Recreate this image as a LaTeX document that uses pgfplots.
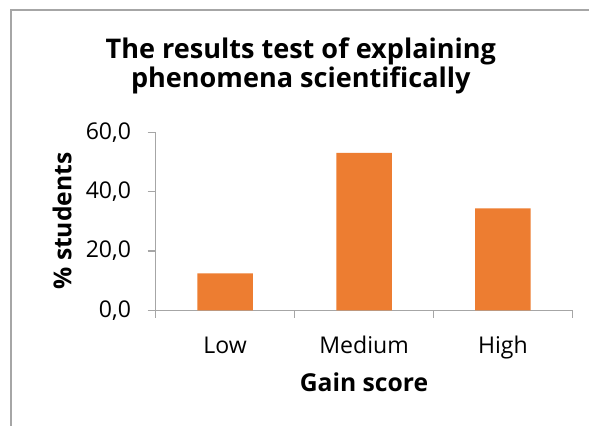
\documentclass[border=0pt]{standalone}
\usepackage{pgfplots}
\pgfplotsset{compat=1.18}
\usepackage{fontspec}
\setmainfont{Open Sans}
\definecolor{barorange}{HTML}{ED7D31}
\definecolor{axgray}{HTML}{A6A6A6}
\begin{document}
\begin{tikzpicture}
\path[use as bounding box] (0,0) rectangle (441.75pt,318.75pt);
\fill[white] (0,0) rectangle (441.75pt,318.75pt);
\draw[axgray, line width=1pt] (8.25pt,-2pt) -- (8.25pt,311.25pt) -- (445pt,311.25pt);
\begin{axis}[
  at={(116.8pt,86pt)}, anchor=south west,
  width=312.5pt, height=133.5pt, scale only axis,
  xmin=-0.5, xmax=2.5, ymin=0, ymax=60,
  axis x line*=bottom, axis y line*=left,
  axis line style={axgray, line width=1pt, -},
  xtick={0,1,2}, xticklabels={Low,Medium,High},
  minor xtick={-0.5,0.5,1.5,2.5},
  major x tick style={draw=none},
  minor tick length=5.5pt,
  major tick length=6pt,
  tick align=outside,
  tick style={axgray, line width=1pt},
  ytick={0,20,40,60},
  /pgf/number format/assume math mode=true,
  /pgf/number format/fixed,
  /pgf/number format/fixed zerofill,
  /pgf/number format/precision=1,
  /pgf/number format/use comma,
  ticklabel style={font=\fontsize{17.3}{20}\selectfont, text=black},
  yticklabel style={xshift=-9pt},
  xticklabel style={anchor=base, yshift=-26pt},
  ybar, bar width=0.4,
  clip=false,
]
\addplot[fill=barorange, draw=none] coordinates {(0,12.5) (1,53.1) (2,34.4)};
\end{axis}
\node[anchor=base, font=\fontsize{20.3}{24}\selectfont\bfseries] at (225.6pt,275pt) {The results test of explaining};
\node[anchor=base, font=\fontsize{20.3}{24}\selectfont\bfseries] at (225.6pt,253pt) {phenomena scientifically};
\node[anchor=base, font=\fontsize{18.5}{22}\selectfont\bfseries] at (273pt,25pt) {Gain score};
\node[rotate=90, anchor=center, font=\fontsize{18.5}{22}\selectfont\bfseries] at (46.5pt,153pt) {\% students};
\end{tikzpicture}
\end{document}
